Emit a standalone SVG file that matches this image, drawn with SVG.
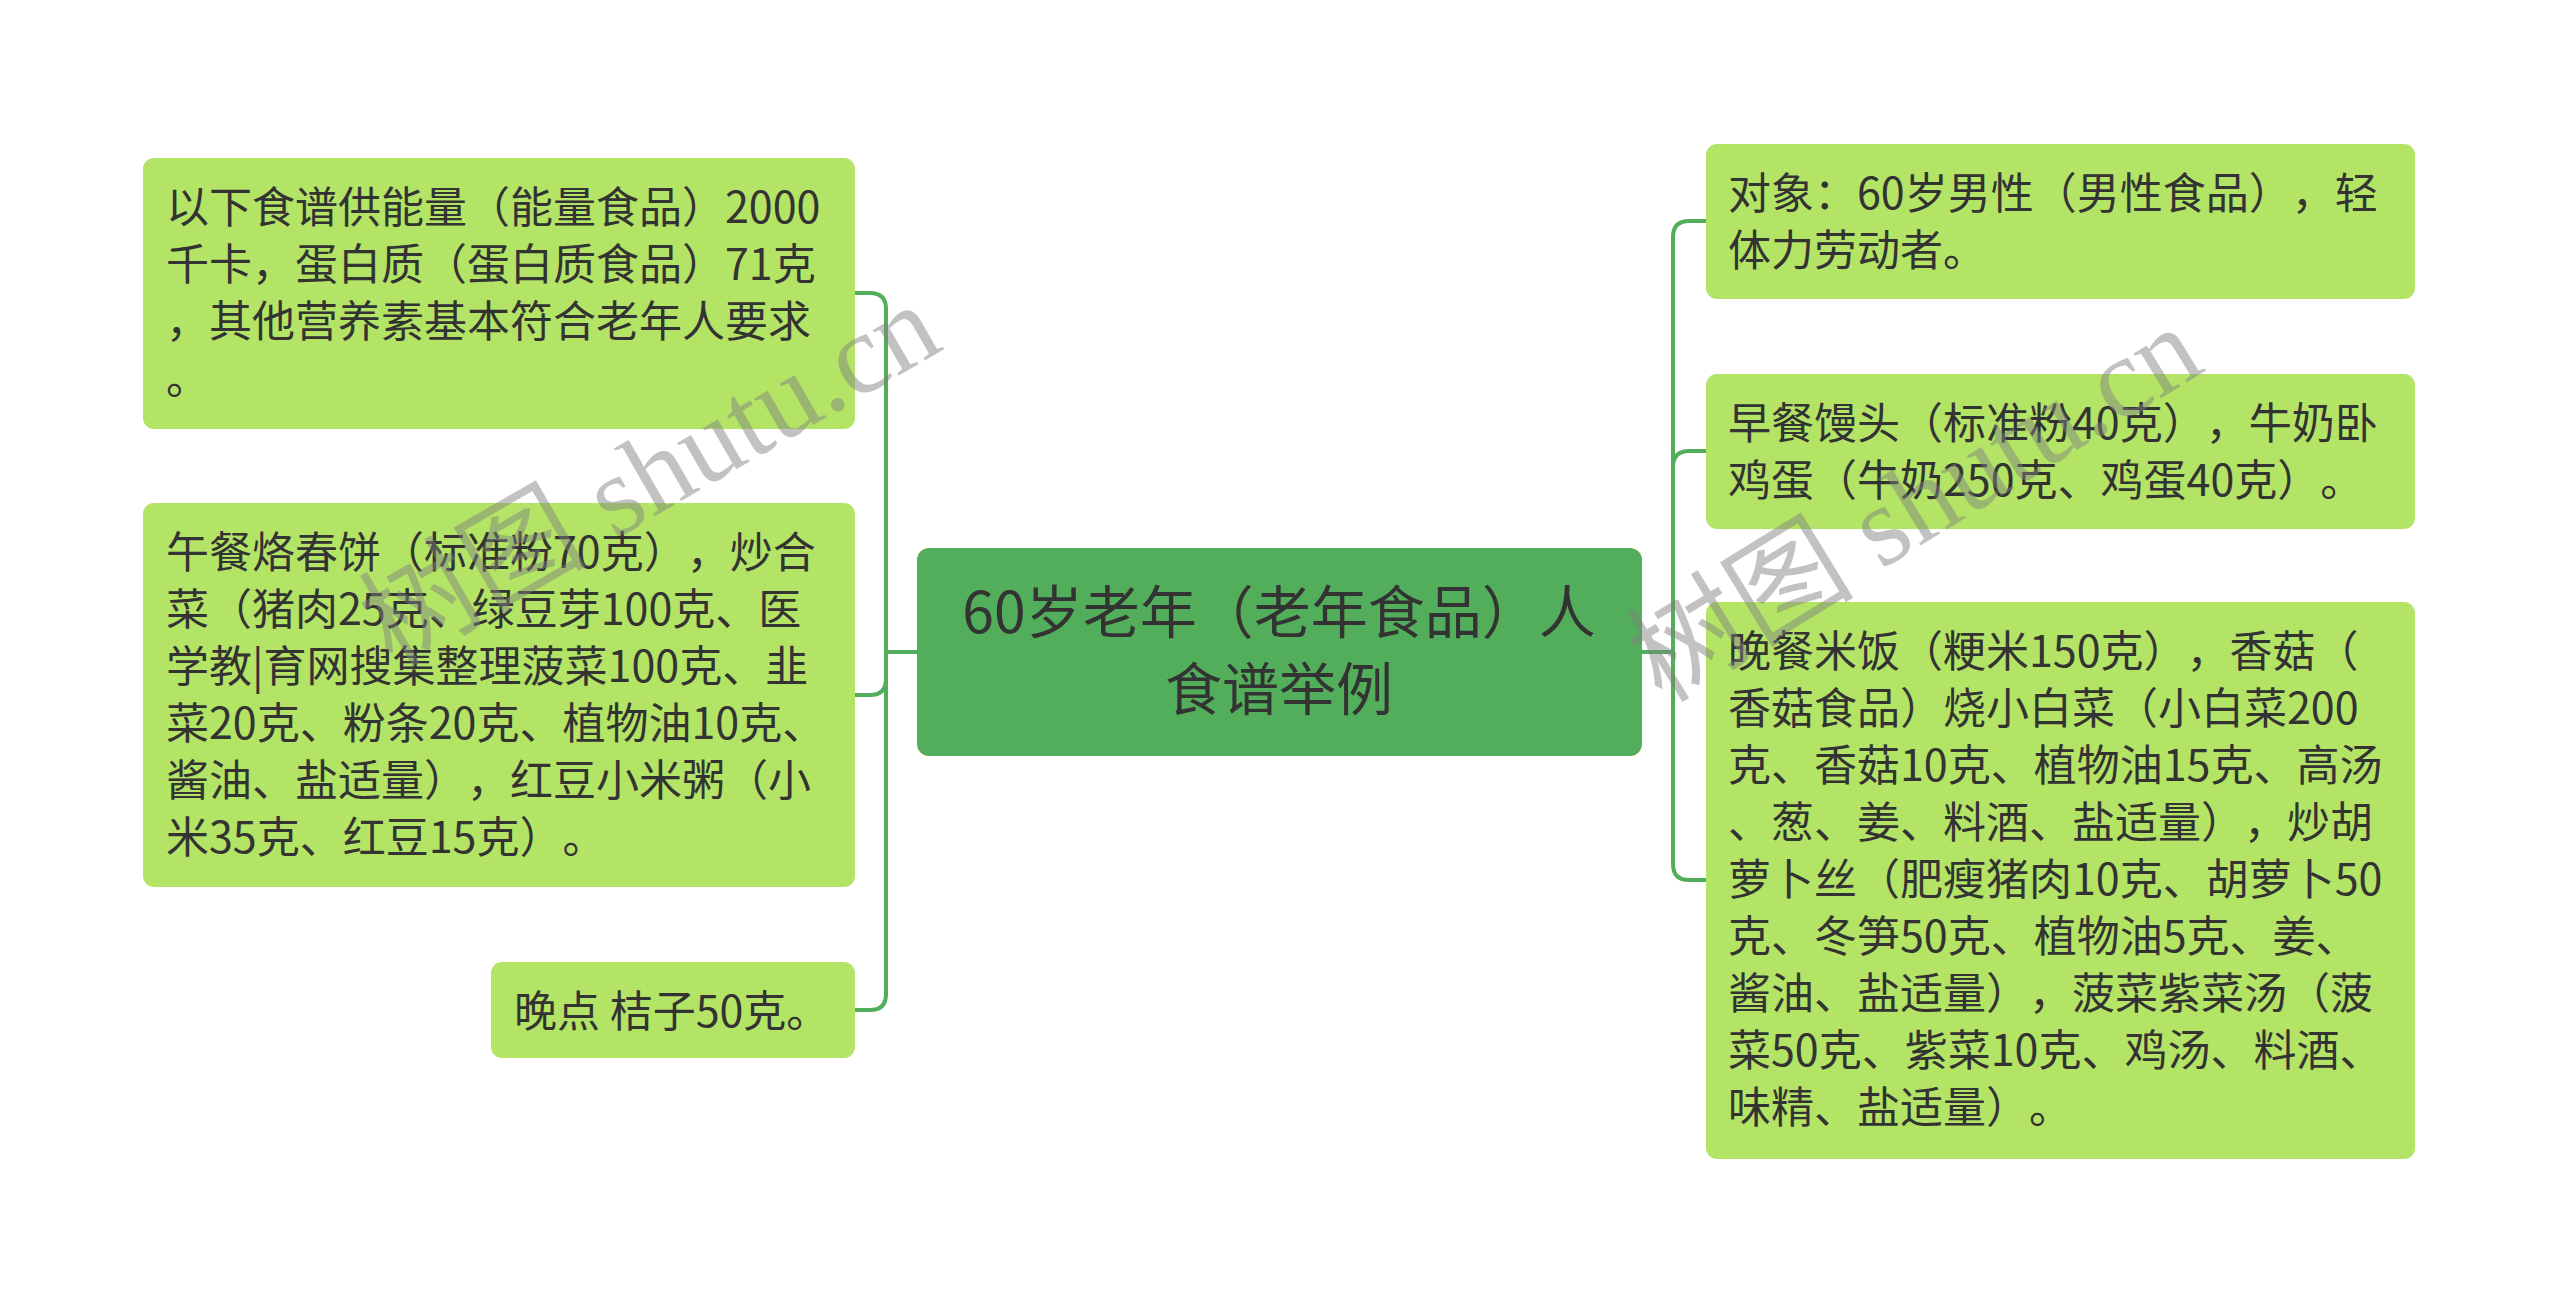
<svg xmlns="http://www.w3.org/2000/svg" width="2560" height="1304" viewBox="0 0 2560 1304">
<style>
.leaf{fill:#b3e465;}
.root{fill:#52ae5b;}
.t{font-family:"Noto Sans CJK SC","Noto Sans",sans-serif;font-size:43px;fill:#333333;font-kerning:none;text-spacing-trim:space-all;font-feature-settings:"kern" 0,"chws" 0,"halt" 0;}
.rt{font-family:"Noto Sans CJK SC","Noto Sans",sans-serif;font-size:57px;fill:#333333;text-anchor:middle;font-kerning:none;text-spacing-trim:space-all;font-feature-settings:"kern" 0,"chws" 0,"halt" 0;}
.link{fill:none;stroke:#52ae5b;stroke-width:4;}
.wm{font-family:"Liberation Serif","Noto Sans CJK SC",serif;font-size:114px;fill:#808080;fill-opacity:0.48;}
</style>
<rect x="0" y="0" width="2560" height="1304" fill="#ffffff"/>
<g id="connectors">
<path class="link" d="M917 652 H886 V309 Q886 293 870 293 H855"/>
<path class="link" d="M917 652 H886 V679 Q886 695 870 695 H855"/>
<path class="link" d="M917 652 H886 V994 Q886 1010 870 1010 H855"/>
<path class="link" d="M1642 652 H1673 V237 Q1673 221 1689 221 H1706"/>
<path class="link" d="M1642 652 H1673 V467 Q1673 451 1689 451 H1706"/>
<path class="link" d="M1642 652 H1673 V864 Q1673 880 1689 880 H1706"/>
</g>
<g id="root">
<rect class="root" x="917" y="548" width="725" height="208" rx="12"/>
<text class="rt" x="1279" y="633">60岁老年（老年食品）人</text>
<text class="rt" x="1279" y="710">食谱举例</text>
</g>
<g id="left1">
<rect class="leaf" x="143" y="158" width="712" height="271" rx="11"/>
<text class="t" x="166" y="223">以下食谱供能量（能量食品）2000</text>
<text class="t" x="166" y="280">千卡，蛋白质（蛋白质食品）71克</text>
<text class="t" x="166" y="337">，其他营养素基本符合老年人要求</text>
<text class="t" x="166" y="394">。</text>
</g>
<g id="left2">
<rect class="leaf" x="143" y="503" width="712" height="384" rx="11"/>
<text class="t" x="166" y="568">午餐烙春饼（标准粉70克），炒合</text>
<text class="t" x="166" y="625">菜（猪肉25克、绿豆芽100克、医</text>
<text class="t" x="166" y="682">学教|育网搜集整理菠菜100克、韭</text>
<text class="t" x="166" y="739">菜20克、粉条20克、植物油10克、</text>
<text class="t" x="166" y="796">酱油、盐适量），红豆小米粥（小</text>
<text class="t" x="166" y="853">米35克、红豆15克）。</text>
</g>
<g id="left3">
<rect class="leaf" x="491" y="962" width="364" height="96" rx="11"/>
<text class="t" x="514" y="1027">晚点 桔子50克。</text>
</g>
<g id="right1">
<rect class="leaf" x="1706" y="144" width="709" height="155" rx="11"/>
<text class="t" x="1728" y="209">对象：60岁男性（男性食品），轻</text>
<text class="t" x="1728" y="266">体力劳动者。</text>
</g>
<g id="right2">
<rect class="leaf" x="1706" y="374" width="709" height="155" rx="11"/>
<text class="t" x="1728" y="439">早餐馒头（标准粉40克），牛奶卧</text>
<text class="t" x="1728" y="496">鸡蛋（牛奶250克、鸡蛋40克）。</text>
</g>
<g id="right3">
<rect class="leaf" x="1706" y="602" width="709" height="557" rx="11"/>
<text class="t" x="1728" y="667">晚餐米饭（粳米150克），香菇（</text>
<text class="t" x="1728" y="724">香菇食品）烧小白菜（小白菜200</text>
<text class="t" x="1728" y="781">克、香菇10克、植物油15克、高汤</text>
<text class="t" x="1728" y="838">、葱、姜、料酒、盐适量），炒胡</text>
<text class="t" x="1728" y="895">萝卜丝（肥瘦猪肉10克、胡萝卜50</text>
<text class="t" x="1728" y="952">克、冬笋50克、植物油5克、姜、</text>
<text class="t" x="1728" y="1009">酱油、盐适量），菠菜紫菜汤（菠</text>
<text class="t" x="1728" y="1066">菜50克、紫菜10克、鸡汤、料酒、</text>
<text class="t" x="1728" y="1123">味精、盐适量）。</text>
</g>
<g id="watermark">
<text class="wm" transform="translate(392 668) rotate(-30)">树图 shutu.cn</text>
<text class="wm" transform="translate(1662 704) rotate(-31.5)">树图 shutu.cn</text>
</g>
</svg>
